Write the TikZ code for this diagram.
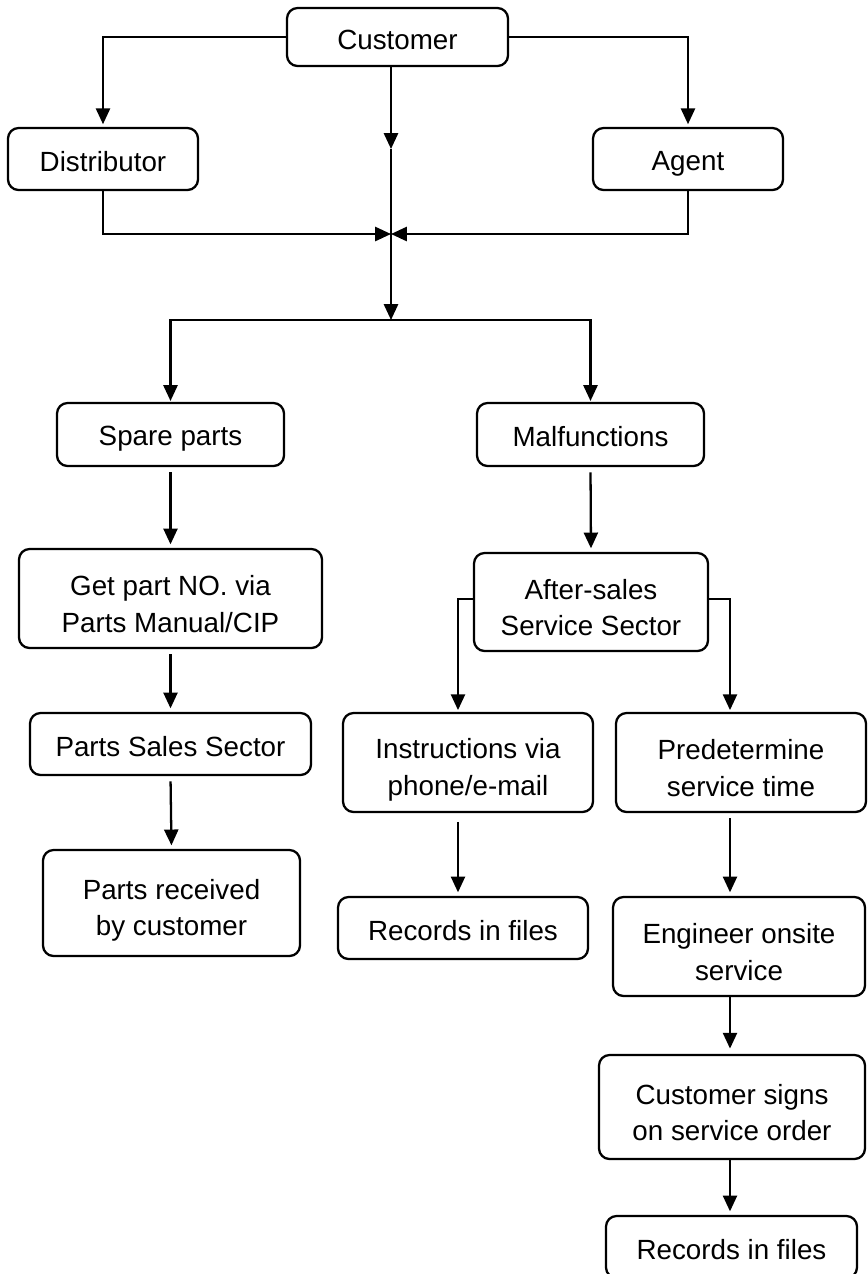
\documentclass[tikz,border=0pt]{standalone}
\usepackage{fontspec}
\setmainfont{Liberation Sans}
\usetikzlibrary{arrows.meta}
\newcommand\twolines[2]{\rule{0pt}{19.7pt}#1\\#2\rule[-2pt]{0pt}{0pt}}
\newcommand\oneline[1]{\rule[-2pt]{0pt}{18.1pt}#1}
\tikzset{
  box/.style={draw, line width=1.3pt, rounded corners=6pt, align=center, inner sep=1pt,
    font=\fontsize{15.8}{20.8}\selectfont},
  arr/.style={-{Triangle[length=9pt,width=8pt]}, line width=1.3pt},
  link/.style={arr, shorten <=3pt, shorten >=2pt}
}
\begin{document}
\begin{tikzpicture}
\useasboundingbox (0,0) rectangle (17.34,-25.48);
\clip (0,0) rectangle (17.34,-25.48);
% nodes
\node[box, minimum width=4.42cm, minimum height=1.16cm] (cust) at (7.95,-0.74) {\oneline{Customer}};
\node[box, minimum width=3.8cm, minimum height=1.24cm] (dist) at (2.06,-3.18) {\oneline{Distributor}};
\node[box, minimum width=3.8cm, minimum height=1.24cm] (agent) at (13.76,-3.18) {\oneline{Agent}};
\node[box, minimum width=4.54cm, minimum height=1.26cm] (spare) at (3.41,-8.69) {\oneline{Spare parts}};
\node[box, minimum width=4.54cm, minimum height=1.26cm] (malf) at (11.81,-8.69) {\oneline{Malfunctions}};
\node[box, minimum width=6.06cm, minimum height=1.98cm] (getpart) at (3.41,-11.97) {\twolines{Get part NO. via}{Parts Manual/CIP}};
\node[box, minimum width=4.68cm, minimum height=1.96cm] (after) at (11.82,-12.04) {\twolines{After-sales}{Service Sector}};
\node[box, minimum width=5.62cm, minimum height=1.24cm] (pss) at (3.41,-14.88) {\oneline{Parts Sales Sector}};
\node[box, minimum width=5.0cm, minimum height=1.98cm] (instr) at (9.36,-15.25) {\twolines{Instructions via}{phone/e-mail}};
\node[box, minimum width=5.0cm, minimum height=1.98cm] (predet) at (14.82,-15.25) {\twolines{Predetermine}{service time}};
\node[box, minimum width=5.14cm, minimum height=2.12cm] (prec) at (3.43,-18.06) {\twolines{Parts received}{by customer}};
\node[box, minimum width=5.0cm, minimum height=1.24cm] (recl) at (9.26,-18.56) {\oneline{Records in files}};
\node[box, minimum width=5.04cm, minimum height=1.98cm] (eng) at (14.78,-18.93) {\twolines{Engineer onsite}{service}};
\node[box, minimum width=5.32cm, minimum height=2.08cm] (signs) at (14.64,-22.14) {\twolines{Customer signs}{on service order}};
\node[box, minimum width=5.02cm, minimum height=1.24cm] (recr) at (14.63,-24.94) {\oneline{Records in files}};
% helper coordinates
\coordinate (mid) at (7.82,-2.98);
\coordinate (hub) at (7.82,-4.68);
\coordinate (split) at (7.82,-6.4);
\coordinate (al) at (9.16,-11.98);
\coordinate (ar) at (14.6,-11.98);
% connectors
\draw[arr, shorten >=1.5pt] (cust.west) -| (dist.north);
\draw[arr, shorten >=1.5pt] (cust.east) -| (agent.north);
\draw[arr] (cust.south -| mid) -- (mid);
\draw[arr] (mid) -- (split);
\draw[arr] (dist.south) |- (hub);
\draw[arr] (agent.south) |- (hub);
\draw[arr, shorten >=0.5pt] (split) -| (spare.north);
\draw[arr, shorten >=0.5pt] (split) -| (malf.north);
\draw[link] (spare.south) -- (getpart.north);
\draw[link] (malf.south) -- (after.north);
\draw[link] (getpart.south) -- (pss.north);
\draw[link] (pss.south) -- (prec.north);
\draw[arr, shorten >=1pt] (after.west |- al) -- (al) -- (al |- instr.north);
\draw[arr, shorten >=1pt] (after.east |- ar) -- (ar) -- (ar |- predet.north);
\draw[link, shorten <=5pt] (al |- instr.south) -- (al |- recl.north);
\draw[link, shorten <=3pt] (ar |- predet.south) -- (ar |- eng.north);
\draw[link, shorten <=0pt, shorten >=3pt] (ar |- eng.south) -- (ar |- signs.north);
\draw[link, shorten <=0pt] (ar |- signs.south) -- (ar |- recr.north);
\end{tikzpicture}
\end{document}
